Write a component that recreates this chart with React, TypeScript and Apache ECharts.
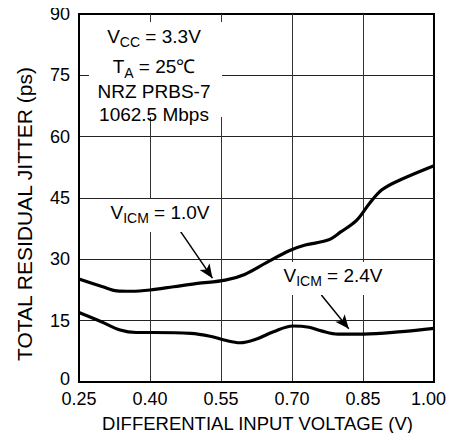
import React, { useEffect, useRef } from "react";
import * as echarts from "echarts";

// Differential input voltage (V) and total residual jitter (ps)
const vicm10X = [0.25, 0.30, 0.33, 0.36, 0.40, 0.45, 0.50, 0.559, 0.60, 0.646, 0.694, 0.728, 0.776, 0.803, 0.837, 0.864, 0.89, 0.928, 1.0];
const vicm10Y = [25.2, 23.3, 22.3, 22.2, 22.5, 23.3, 24.1, 24.9, 26.3, 29.2, 32.1, 33.5, 34.7, 36.7, 39.6, 43.7, 47.0, 49.4, 52.9];
const vicm24X = [0.25, 0.296, 0.337, 0.371, 0.405, 0.486, 0.527, 0.559, 0.59, 0.627, 0.661, 0.702, 0.736, 0.762, 0.797, 0.851, 0.932, 1.0];
const vicm24Y = [17.0, 14.8, 12.7, 12.1, 12.1, 11.9, 11.2, 10.2, 9.6, 10.6, 12.3, 13.7, 13.4, 12.5, 11.7, 11.7, 12.3, 13.1];

const xMin = 0.25;
const xMax = 1.0;
const xStep = 0.15;
const yMin = 0;
const yMax = 90;
const yStep = 15;

const xTitle = "DIFFERENTIAL INPUT VOLTAGE (V)";
const yTitle = "TOTAL RESIDUAL JITTER (ps)";

// Arrow annotations (data coordinates: start -> tip)
const arrow10 = [[0.464, 36.9], [0.532, 25.4]];
const arrow24 = [[0.762, 21.3], [0.820, 13.0]];

const FONT = "'Liberation Sans', Arial, Helvetica, sans-serif";

export default function App() {
  const ref = useRef<HTMLDivElement>(null);

  useEffect(() => {
    if (!ref.current) return;
    const chart = echarts.init(ref.current, undefined, { renderer: "svg" });

    const mainStyle = { fontSize: 19, lineHeight: 26, fontFamily: FONT, color: "#000" };
    const subStyle = { fontSize: 14, lineHeight: 16, verticalAlign: "bottom", fontFamily: FONT, color: "#000" };
    const rich = { a: mainStyle, s: subStyle };

    const textEl = (x: number, y: number, text: string) => ({
      type: "text",
      x,
      y,
      z: 110,
      style: {
        text,
        rich,
        align: "center",
        verticalAlign: "middle",
        fontFamily: FONT,
        fontSize: 19,
        fill: "#000",
      },
    });

    const rectEl = (x: number, y: number, w: number, h: number) => ({
      type: "rect",
      shape: { x, y, width: w, height: h },
      z: 100,
      style: { fill: "#fff" },
    });

    const arrowLine = (pts: number[][]) => [
      { coord: pts[0], symbol: "none" },
      { coord: pts[1], symbol: "arrow", symbolSize: [9, 14] },
    ];

    chart.setOption({
      animation: false,
      backgroundColor: "#fff",
      textStyle: { fontFamily: FONT },
      grid: {
        left: 79,
        right: 14,
        top: 14,
        bottom: 59,
        show: true,
        borderColor: "#000",
        borderWidth: 2,
        backgroundColor: "transparent",
      },
      xAxis: {
        type: "value",
        min: xMin,
        max: xMax,
        interval: xStep,
        axisLine: { show: true, lineStyle: { color: "#000", width: 2 } },
        axisTick: { show: false },
        axisLabel: {
          fontSize: 18,
          lineHeight: 14,
          color: "#000",
          fontFamily: FONT,
          margin: 10,
          formatter: (v: number) => (Math.abs(v - xMax) < 1e-9 ? `{r|${v.toFixed(2)}}` : v.toFixed(2)),
          rich: {
            r: { fontSize: 18, lineHeight: 14, fontFamily: FONT, color: "#000", padding: [0, 11, 0, 0] },
          },
        },
        splitLine: { show: true, showMinLine: false, showMaxLine: false, lineStyle: { color: "#333", width: 1 } },
      },
      yAxis: {
        type: "value",
        min: yMin,
        max: yMax,
        interval: yStep,
        axisLine: { show: true, lineStyle: { color: "#000", width: 2 } },
        axisTick: { show: false },
        axisLabel: {
          fontSize: 18,
          lineHeight: 14,
          color: "#000",
          fontFamily: FONT,
          margin: 9,
          formatter: (v: number) => (v === yMin ? `{z|${v}}` : String(v)),
          rich: {
            z: { fontSize: 18, lineHeight: 14, fontFamily: FONT, color: "#000", padding: [0, 0, 6, 0] },
          },
        },
        splitLine: { show: true, showMinLine: false, showMaxLine: false, lineStyle: { color: "#222", width: 1 } },
      },
      series: [
        {
          type: "line",
          name: "VICM = 1.0V",
          data: vicm10X.map((x, i) => [x, vicm10Y[i]]),
          smooth: 0.35,
          symbol: "none",
          lineStyle: { color: "#000", width: 3.2 },
          z: 5,
          markLine: {
            silent: true,
            animation: false,
            label: { show: false },
            lineStyle: { color: "#000", width: 1.5, type: "solid" },
            data: [arrowLine(arrow10)],
          },
        },
        {
          type: "line",
          name: "VICM = 2.4V",
          data: vicm24X.map((x, i) => [x, vicm24Y[i]]),
          smooth: 0.35,
          symbol: "none",
          lineStyle: { color: "#000", width: 3.2 },
          z: 5,
          markLine: {
            silent: true,
            animation: false,
            label: { show: false },
            lineStyle: { color: "#000", width: 1.5, type: "solid" },
            data: [arrowLine(arrow24)],
          },
        },
      ],
      graphic: [
        rectEl(89, 22, 133, 95),
        textEl(154, 36, "{a|V}{s|CC}{a| = 3.3V}"),
        textEl(154, 66.5, "{a|T}{s|A}{a| = 25℃}"),
        textEl(154, 91.5, "{a|NRZ PRBS-7}"),
        textEl(154, 114, "{a|1062.5 Mbps}"),
        rectEl(102, 199, 115, 33),
        textEl(160, 212, "{a|V}{s|ICM}{a| = 1.0V}"),
        rectEl(278, 262, 110, 33),
        textEl(333, 275, "{a|V}{s|ICM}{a| = 2.4V}"),
        {
          type: "text",
          x: 257.5,
          y: 423,
          z: 110,
          style: { text: xTitle, align: "center", verticalAlign: "middle", fontSize: 18.5, fontFamily: FONT, fill: "#000" },
        },
        {
          type: "text",
          x: 24,
          y: 214,
          rotation: Math.PI / 2,
          z: 110,
          style: { text: yTitle, align: "center", verticalAlign: "middle", fontSize: 21, fontFamily: FONT, fill: "#000" },
        },
      ],
    });

    return () => chart.dispose();
  }, []);

  return <div ref={ref} style={{ width: 460, height: 441, margin: -8 }} />;
}
